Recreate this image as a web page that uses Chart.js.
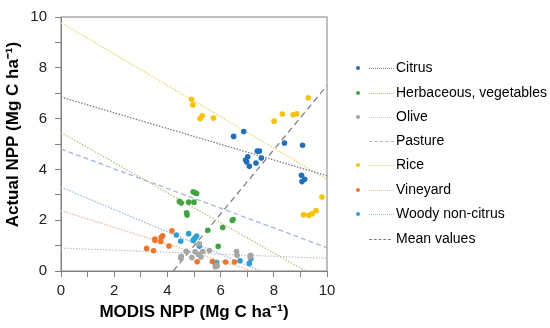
<!DOCTYPE html>
<html>
<head>
<meta charset="utf-8">
<script src="https://cdn.jsdelivr.net/npm/chart.js@4.4.1/dist/chart.umd.min.js"></script>
<style>
  html, body { margin: 0; padding: 0; background: #fff; }
  #wrap { position: relative; width: 550px; height: 328px; }
  #legend { position: absolute; left: 0; top: 0; font-family: 'Liberation Sans', Arial, sans-serif; font-size: 14px; color: #000; }
  .row { position: absolute; left: 354px; height: 16px; width: 200px; }
  .dot { position: absolute; left: 2px; top: 6px; width: 4px; height: 4px; border-radius: 50%; }
  .ln { position: absolute; left: 15px; top: 8px; width: 25px; height: 0; border-top-width: 1px; }
  .txt { position: absolute; left: 42px; top: -1px; white-space: nowrap; line-height: 16px; }
</style>
</head>
<body>
<div id="wrap">
  <canvas id="myChart" width="550" height="328"></canvas>
  <div id="legend"></div>
</div>
<script>
// scatter points [MODIS NPP, Actual NPP]
const citrus = [[6.49,5.30],[6.87,5.49],[6.94,4.37],[6.98,4.29],[7.02,4.50],[7.08,4.12],[7.33,4.25],[7.38,4.72],[7.46,4.72],[7.53,4.45],[8.40,5.04],[9.08,4.95],[9.04,3.77],[9.16,3.61],[9.06,3.52]];
const herbaceous = [[4.97,3.12],[5.04,3.08],[5.10,3.05],[4.45,2.74],[4.52,2.68],[4.80,2.71],[5.00,2.71],[4.72,2.29],[4.74,2.20],[6.47,2.03],[6.44,1.99],[6.08,1.71],[5.52,1.60],[5.91,0.97]];
const olive = [[4.50,0.51],[4.52,0.58],[4.70,0.78],[4.92,0.53],[5.04,0.76],[5.16,0.66],[5.20,1.07],[5.26,0.55],[5.33,0.77],[5.58,0.81],[5.80,0.17],[5.85,0.23],[6.60,0.77],[6.62,0.62],[7.11,0.55],[7.13,0.62]];
const rice = [[4.91,6.76],[4.96,6.54],[5.31,6.11],[5.23,6.00],[5.73,6.02],[8.01,5.90],[8.32,6.18],[8.73,6.15],[8.86,6.19],[9.30,6.82],[9.81,2.91],[9.12,2.21],[9.32,2.19],[9.44,2.25],[9.59,2.38]];
const vineyard = [[3.22,0.89],[3.48,0.80],[3.53,1.26],[3.53,1.20],[3.75,1.16],[3.77,1.33],[3.82,1.39],[4.06,0.98],[4.17,1.58],[5.12,0.36],[5.69,0.37],[5.86,0.20],[6.19,0.35],[6.52,0.35]];
const woody = [[4.34,1.42],[4.50,1.17],[4.80,1.47],[4.97,1.20],[5.00,1.25],[5.04,1.30],[5.10,1.38],[5.20,0.98],[5.85,0.32],[5.82,0.25],[6.73,0.40],[7.14,0.48],[7.08,0.30]];

// trend line end points
const trendCitrus = [[0,6.85],[10,3.75]];
const trendHerbaceous = [[0,5.45],[9.2,0]];
const trendOlive = [[0,0.9],[10,0.5]];
const trendPasture = [[0,4.8],[10,0.92]];
const trendRice = [[0,9.78],[10,3.6]];
const trendVineyard = [[0,2.38],[7.2,0]];
const trendWoody = [[0,3.3],[7.5,0]];
const meanLine = [[4.22,0],[10,7.3]];

const legendLabels = ['Citrus','Herbaceous, vegetables','Olive','Pasture','Rice','Vineyard','Woody non-citrus','Mean values'];

const FONT = "'Liberation Sans', Arial, sans-serif";

function pts(arr) {
  return arr.map(p => ({x: p[0], y: p[1]}));
}

function scatter(label, arr, color) {
  return { type: 'scatter', label: label, data: pts(arr), backgroundColor: color, borderColor: color,
    pointRadius: 2.8, pointBorderWidth: 0, order: 1 };
}

function trend(label, arr, color, dash) {
  return { type: 'line', label: label, data: pts(arr), borderColor: color, borderWidth: 1.3,
    borderDash: dash, pointRadius: 0, fill: false, order: 2 };
}

const series = [
  { name: 'Citrus', pts: citrus, color: '#1f6fc1', line: trendCitrus, lineColor: '#767c8a', dash: [1.5,1.5] },
  { name: 'Herbaceous, vegetables', pts: herbaceous, color: '#3fa63f', line: trendHerbaceous, lineColor: '#b8c47c', dash: [1.5,1.5] },
  { name: 'Olive', pts: olive, color: '#a5a5a5', line: trendOlive, lineColor: '#c4c4c4', dash: [1.5,1.5] },
  { name: 'Pasture', pts: null, color: null, line: trendPasture, lineColor: '#a6b5db', dash: [5,3] },
  { name: 'Rice', pts: rice, color: '#ffc000', line: trendRice, lineColor: '#eed86a', dash: [1.5,1.5] },
  { name: 'Vineyard', pts: vineyard, color: '#f4732a', line: trendVineyard, lineColor: '#eebb90', dash: [1.5,1.5] },
  { name: 'Woody non-citrus', pts: woody, color: '#2aa0da', line: trendWoody, lineColor: '#98bedc', dash: [1.5,1.5] },
  { name: 'Mean values', pts: null, color: null, line: meanLine, lineColor: '#808080', dash: [6,4] }
];

const datasets = [];
series.forEach(s => {
  datasets.push(trend(s.name + ' trend', s.line, s.lineColor, s.dash));
  if (s.pts) datasets.push(scatter(s.name, s.pts, s.color));
});

// box around the plot area
const frame = {
  id: 'frame',
  beforeDatasetsDraw(chart) {
    const {ctx, chartArea: a} = chart;
    ctx.save();
    ctx.strokeStyle = '#808080';
    ctx.lineWidth = 1;
    ctx.strokeRect(a.left, a.top, a.right - a.left, a.bottom - a.top);
    ctx.restore();
  }
};

const axisCommon = {
  min: 0, max: 10,
  border: { color: '#808080' },
  grid: { drawOnChartArea: false, drawTicks: true, tickLength: 6, color: '#808080' },
};

const ctx = document.getElementById('myChart').getContext('2d');
new Chart(ctx, {
  type: 'scatter',
  data: { datasets: datasets },
  options: {
    responsive: false,
    animation: false,
    layout: { padding: { left: 0, top: 12, right: 223, bottom: 0 } },
    plugins: { legend: { display: false }, tooltip: { enabled: false } },
    scales: {
      x: Object.assign({}, axisCommon, {
        type: 'linear',
        ticks: { stepSize: 1, autoSkip: false, maxRotation: 0, padding: 5, color: '#222',
          font: { family: FONT, size: 15 }, callback: v => (v % 2 === 0 ? v : '') },
        title: { display: true, text: 'MODIS NPP (Mg C ha\u207B\u00B9)', color: '#000',
          font: { family: FONT, size: 17, weight: 'bold' }, padding: { top: 0, bottom: 5 } },
        afterFit: s => { s.height = 57; }
      }),
      y: Object.assign({}, axisCommon, {
        type: 'linear',
        ticks: { stepSize: 1, autoSkip: false, padding: 8, color: '#222',
          font: { family: FONT, size: 15 }, callback: v => (v % 2 === 0 ? v : '') },
        title: { display: true, text: '\u00A0\u00A0\u00A0\u00A0Actual NPP (Mg C ha\u207B\u00B9)', color: '#000',
          font: { family: FONT, size: 17, weight: 'bold' }, padding: { top: 3, bottom: 0 } },
        afterFit: s => { s.width = 61; }
      })
    }
  },
  plugins: [frame]
});

// html legend: marker dot + trend line style
const legendY = [68, 92.5, 117, 141, 165, 189.5, 214, 239];
const legend = document.getElementById('legend');
series.forEach((s, i) => {
  const row = document.createElement('div');
  row.className = 'row';
  row.style.top = (legendY[i] - 8) + 'px';
  if (s.color) {
    const d = document.createElement('span');
    d.className = 'dot';
    d.style.background = s.color;
    row.appendChild(d);
  }
  const l = document.createElement('span');
  l.className = 'ln';
  l.style.borderTopStyle = s.dash[0] > 2 ? 'dashed' : 'dotted';
  l.style.borderTopColor = s.lineColor;
  if (s.name === 'Mean values') { l.style.width = '22px'; l.style.borderTopWidth = '1.5px'; }
  row.appendChild(l);
  const t = document.createElement('span');
  t.className = 'txt';
  t.textContent = legendLabels[i];
  row.appendChild(t);
  legend.appendChild(row);
});
</script>
</body>
</html>
